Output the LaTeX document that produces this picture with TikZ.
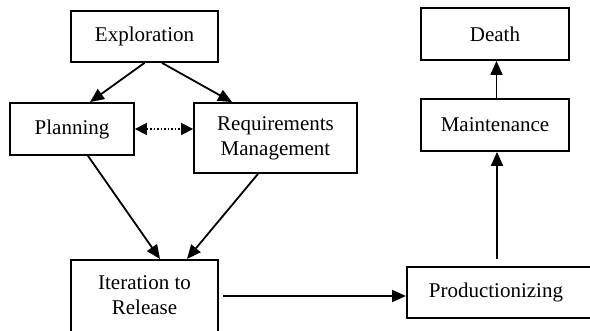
\documentclass[tikz,border=0pt]{standalone}
\usepackage{fontspec}
\setmainfont{Liberation Serif}
\usetikzlibrary{arrows.meta,calc}
\begin{document}
\begin{tikzpicture}[x=1pt,y=-1pt,
  box/.style={draw,line width=1.8pt,inner sep=0pt,align=center,font=\fontsize{21}{25}\selectfont},
  arr/.style={line width=1.8pt,-{Triangle[length=14pt,width=12pt]}},
  darr/.style={line width=1.5pt,dotted,{Triangle[length=12pt,width=12pt]}-{Triangle[length=12pt,width=12pt]}}]
\useasboundingbox (0,0) rectangle (590,331);
\node[box,minimum width=147pt,minimum height=51pt] (expl) at (144.5,36.5) {Exploration};
\node[box,minimum width=124pt,minimum height=52pt] (plan) at (72,129) {Planning};
\node[box,minimum width=163pt,minimum height=70pt] (req) at (275.5,138) {Requirements\\Management};
\node[box,minimum width=147pt,anchor=north,inner ysep=16pt,text depth=40pt] (iter) at (144.5,259) {Iteration to\\Release};
\node[box,anchor=west,minimum height=51pt,text width=200pt,align=left,inner xsep=22pt] (prod) at (406,292.5) {Productionizing};
\node[box,minimum width=148pt,minimum height=52pt] (maint) at (495,125) {Maintenance};
\node[box,minimum width=148pt,minimum height=52pt] (death) at (495,34) {Death};
\draw[arr] (expl.south) -- ($(plan.north)+(18,0)$);
\draw[arr] ($(expl.south)+(17.5,0)$) -- ($(req.north)+(-43.5,0)$);
\draw[darr] (plan.east) -- (req.west |- plan.east);
\draw[arr] ($(plan.south)+(16,0)$) -- ($(iter.north)+(15.5,0)$);
\draw[arr] ($(req.south)+(-17.5,0)$) -- ($(iter.north)+(42.5,0)$);
\coordinate (ie) at ($(iter.north east)+(4,37)$);
\draw[arr] (ie) -- (prod.west |- ie);
\coordinate (pm) at ($(prod.north west)+(91,-7)$);
\draw[arr] (pm) -- (maint.south -| pm);
\draw[arr] ($(maint.north)+(1.5,0)$) -- ($(death.south)+(1.5,0)$);
\end{tikzpicture}
\end{document}
